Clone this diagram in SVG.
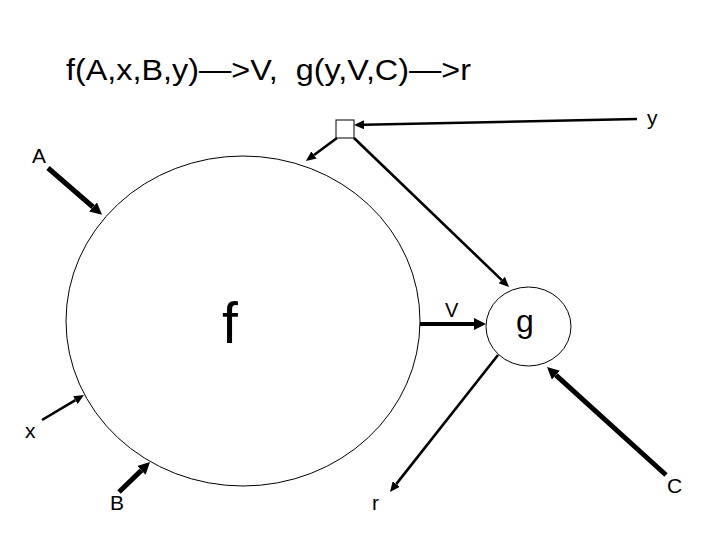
<svg xmlns="http://www.w3.org/2000/svg" width="720" height="540" viewBox="0 0 720 540">
  <defs>
    <style>
      text { font-family: "Liberation Sans", Arial, sans-serif; fill: #000; }
      .lbl { font-size: 21px; }
      .ttl { font-size: 29px; }
      .node { fill: #fff; stroke: #000; stroke-width: 1; }
      .thick { stroke: #000; stroke-width: 5; fill: none; marker-end: url(#headL); }
      .mid { stroke: #000; stroke-width: 4; fill: none; marker-end: url(#headL); }
      .thin { stroke: #000; stroke-width: 2.6; fill: none; marker-end: url(#headS); }
    </style>
    <marker id="headL" markerUnits="userSpaceOnUse" markerWidth="12" markerHeight="12" refX="0" refY="6" orient="auto" viewBox="0 0 12 12">
      <path d="M0,0 L12,6 L0,12 z" fill="#000"/>
    </marker>
    <marker id="headS" markerUnits="userSpaceOnUse" markerWidth="10" markerHeight="9" refX="0" refY="4.5" orient="auto" viewBox="0 0 10 9">
      <path d="M0,0 L10,4.5 L0,9 z" fill="#000"/>
    </marker>
  </defs>
  <rect width="720" height="540" fill="#fff"/>

  <g id="title">
    <text class="ttl" x="66" y="80" textLength="405" lengthAdjust="spacingAndGlyphs" xml:space="preserve">f(A,x,B,y)—&gt;V,  g(y,V,C)—&gt;r</text>
  </g>

  <g id="f">
    <ellipse class="node" cx="243" cy="321" rx="177" ry="165"/>
    <text x="222" y="343" font-size="57">f</text>
  </g>
  <g id="g">
    <ellipse class="node" cx="528.5" cy="326.5" rx="42.5" ry="39.5"/>
    <text x="516" y="332" font-size="32">g</text>
  </g>
  <g id="split">
    <rect class="node" x="336" y="120" width="18" height="18"/>
  </g>
  <g id="in-A"><text class="lbl" x="32" y="163">A</text></g>
  <g id="in-x"><text class="lbl" x="25" y="438">x</text></g>
  <g id="in-B"><text class="lbl" x="110" y="510">B</text></g>
  <g id="in-y"><text class="lbl" x="647" y="125">y</text></g>
  <g id="in-C"><text class="lbl" x="667" y="493">C</text></g>
  <g id="out-r"><text class="lbl" x="372" y="510">r</text></g>

  <g id="connectors">
    <line class="thick" x1="48" y1="168" x2="93" y2="207"/>
    <line class="thin" x1="42" y1="420" x2="75.4" y2="400.1"/>
    <line class="thick" x1="119" y1="492" x2="141.4" y2="470.4"/>
    <line class="thin" x1="637" y1="119" x2="364" y2="124.8"/>
    <line class="thin" x1="337" y1="138" x2="314" y2="155"/>
    <line class="thin" x1="354" y1="138" x2="501.8" y2="280.1"/>
    <line class="mid" x1="420" y1="324" x2="474" y2="324"/>
    <text x="445" y="317" font-size="20">V</text>
    <line class="thin" x1="498" y1="355" x2="396.2" y2="484.1"/>
    <line class="thick" x1="666" y1="475" x2="555.9" y2="375.1"/>
  </g>
</svg>
